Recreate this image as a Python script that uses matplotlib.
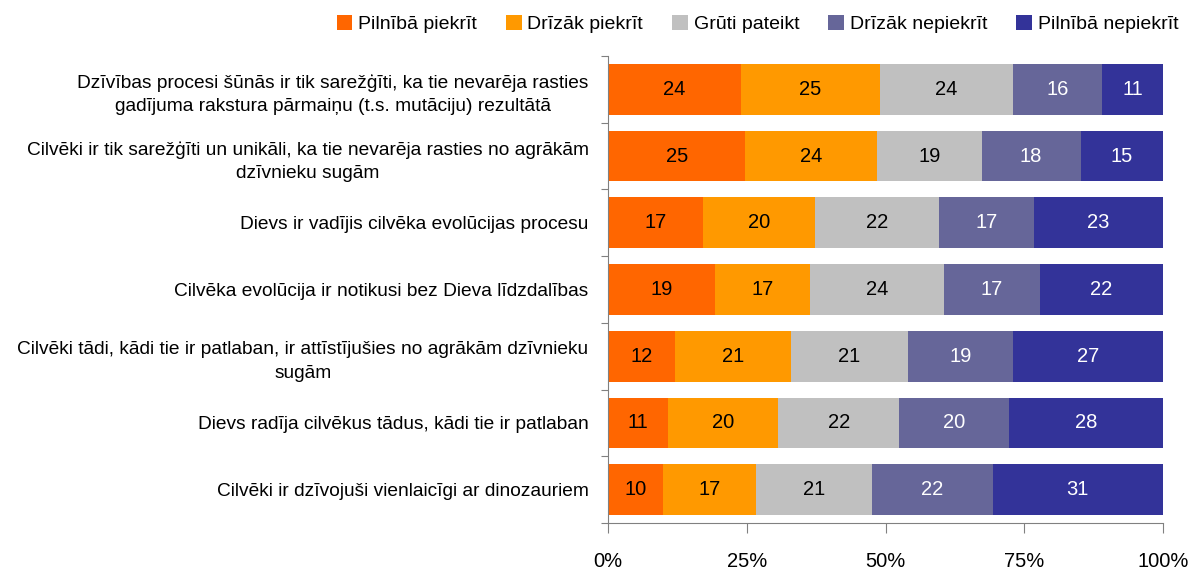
import numpy as np
import matplotlib.pyplot as plt
from matplotlib.patches import Patch

plt.rcParams['font.family'] = ['Liberation Sans', 'DejaVu Sans']

categories = [
    'Dzīvības procesi šūnās ir tik sarežģīti, ka tie nevarēja rasties\ngadījuma rakstura pārmaiņu (t.s. mutāciju) rezultātā',
    'Cilvēki ir tik sarežģīti un unikāli, ka tie nevarēja rasties no agrākām\ndzīvnieku sugām',
    'Dievs ir vadījis cilvēka evolūcijas procesu',
    'Cilvēka evolūcija ir notikusi bez Dieva līdzdalības',
    'Cilvēki tādi, kādi tie ir patlaban, ir attīstījušies no agrākām dzīvnieku\nsugām',
    'Dievs radīja cilvēkus tādus, kādi tie ir patlaban',
    'Cilvēki ir dzīvojuši vienlaicīgi ar dinozauriem',
]
series = ['Pilnībā piekrīt', 'Drīzāk piekrīt', 'Grūti pateikt', 'Drīzāk nepiekrīt', 'Pilnībā nepiekrīt']
pilniba_piekrit = [24, 25, 17, 19, 12, 11, 10]
drizak_piekrit = [25, 24, 20, 17, 21, 20, 17]
gruti_pateikt = [24, 19, 22, 24, 21, 22, 21]
drizak_nepiekrit = [16, 18, 17, 17, 19, 20, 22]
pilniba_nepiekrit = [11, 15, 23, 22, 27, 28, 31]

colors = ['#FF6600', '#FF9900', '#C0C0C0', '#666699', '#333399']
text_colors = ['black', 'black', 'black', 'white', 'white']

vals = np.array([pilniba_piekrit, drizak_piekrit, gruti_pateikt,
                 drizak_nepiekrit, pilniba_nepiekrit], dtype=float)
shares = vals / vals.sum(axis=0) * 100

fig = plt.figure(figsize=(11.96, 5.70), dpi=100)
ax = fig.add_axes([0.5084, 0.0825, 0.4640, 0.8193])

y = np.arange(len(categories))
left = np.zeros(len(categories))
for i, name in enumerate(series):
    ax.barh(y, shares[i], left=left, height=0.76, color=colors[i], label=name)
    for j in range(len(categories)):
        ax.text(left[j] + shares[i, j] / 2, y[j], '%d' % vals[i, j],
                ha='center', va='center', fontsize=14.5, color=text_colors[i])
    left += shares[i]

ax.set_xlim(0, 100)
ax.set_ylim(len(categories) - 0.5, -0.5)
ax.set_xticks([0, 25, 50, 75, 100])
ax.set_xticklabels(['0%', '25%', '50%', '75%', '100%'], fontsize=14.5)
ax.set_yticks(np.arange(-0.5, len(categories), 1.0))
ax.set_yticklabels([])
ax.set_yticks(y, minor=True)
ax.set_yticklabels(categories, minor=True, fontsize=13.8, multialignment='center',
                   linespacing=1.5)
ax.tick_params(axis='y', which='minor', length=0, pad=14)
ax.tick_params(axis='y', which='major', length=5, color='#808080', direction='out')
ax.tick_params(axis='x', length=7, color='#808080', direction='out', pad=14)
for s in ['top', 'right']:
    ax.spines[s].set_visible(False)
for s in ['left', 'bottom']:
    ax.spines[s].set_color('#808080')

handles = [Patch(facecolor=c, edgecolor='none') for c in colors]
fig.legend(handles, series, loc='upper right', bbox_to_anchor=(1.0, 1.005), ncol=5,
           frameon=False, fontsize=14, handlelength=0.8, handleheight=0.8,
           handletextpad=0.3, columnspacing=1.5)

fig.savefig('out.png', dpi=100)
